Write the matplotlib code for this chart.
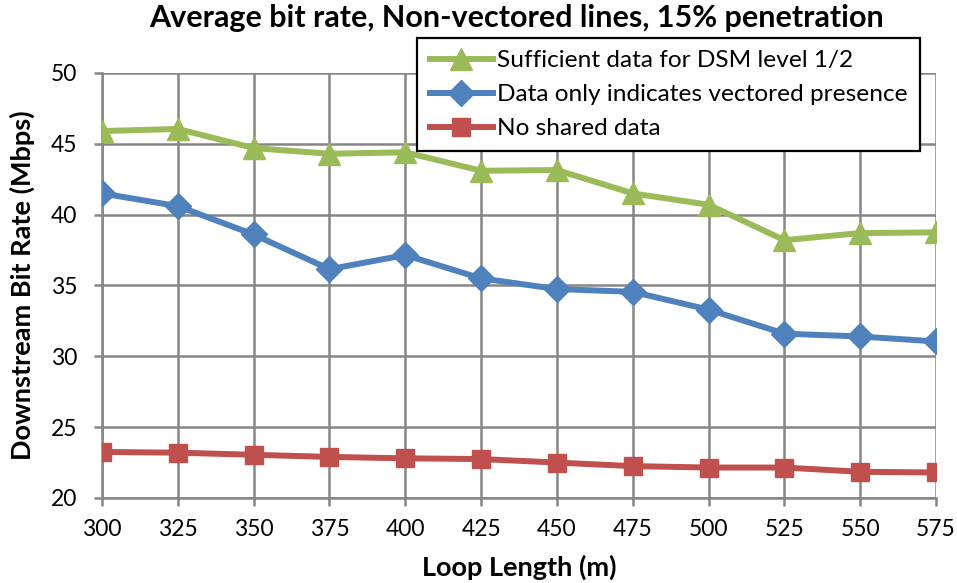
import matplotlib
matplotlib.use("Agg")
import matplotlib.pyplot as plt

plt.rcParams['font.family'] = ['Lato', 'DejaVu Sans']

loop_length = [300, 325, 350, 375, 400, 425, 450, 475, 500, 525, 550, 575]
dsm_level = [45.9, 46.05, 44.7, 44.3, 44.4, 43.1, 43.15, 41.5, 40.7, 38.2, 38.7, 38.75]
vectored_presence = [41.5, 40.6, 38.6, 36.15, 37.15, 35.5, 34.75, 34.55, 33.3, 31.6, 31.4, 31.05]
no_shared = [23.25, 23.2, 23.05, 22.9, 22.8, 22.75, 22.5, 22.25, 22.15, 22.15, 21.85, 21.8]

labels = ["Sufficient data for DSM level 1/2",
          "Data only indicates vectored presence",
          "No shared data"]

fig = plt.figure(figsize=(9.57, 5.83), dpi=100)
ax = fig.add_axes([0.1066, 0.1458, 0.8715, 0.729])

grid_col = '#868686'
ax.plot(loop_length, dsm_level, color='#9BBB59', lw=4.3, marker='^', ms=16,
        label=labels[0], zorder=3)
ax.plot(loop_length, vectored_presence, color='#4F81BD', lw=4.3, marker='D', ms=13,
        label=labels[1], zorder=3)
ax.plot(loop_length, no_shared, color='#C0504D', lw=4.3, marker='s', ms=13.5,
        label=labels[2], zorder=3)

ax.set_xlim(300, 575)
ax.set_ylim(20, 50)
ax.set_xticks(loop_length)
ax.set_yticks(range(20, 51, 5))
ax.grid(True, color=grid_col, lw=1.8)
ax.set_axisbelow(True)
for side in ['top', 'right']:
    ax.spines[side].set_visible(False)
for side in ['left', 'bottom']:
    ax.spines[side].set_color(grid_col)
    ax.spines[side].set_linewidth(1.8)
ax.tick_params(axis='both', labelsize=16.5, color=grid_col, length=6, width=1.8)
ax.tick_params(axis='x', pad=9)
ax.tick_params(axis='y', pad=12)

ax.set_xlabel("Loop Length (m)", fontsize=19.5, fontweight='bold', labelpad=11)
ax.set_ylabel("Downstream Bit Rate (Mbps)", fontsize=19.5, fontweight='bold', labelpad=11)
fig.suptitle("Average bit rate, Non-vectored lines, 15% penetration",
             fontsize=22, fontweight='bold', x=0.54, y=0.993)

leg = ax.legend(loc='upper left', bbox_to_anchor=(0.378, 1.082), fontsize=17.6,
                frameon=True, fancybox=False, edgecolor='black', framealpha=1,
                borderpad=0.5, labelspacing=0.52, handlelength=2.6,
                handletextpad=0.15, borderaxespad=0)
leg.get_frame().set_linewidth(1.6)

fig.savefig("out.png", dpi=100)
